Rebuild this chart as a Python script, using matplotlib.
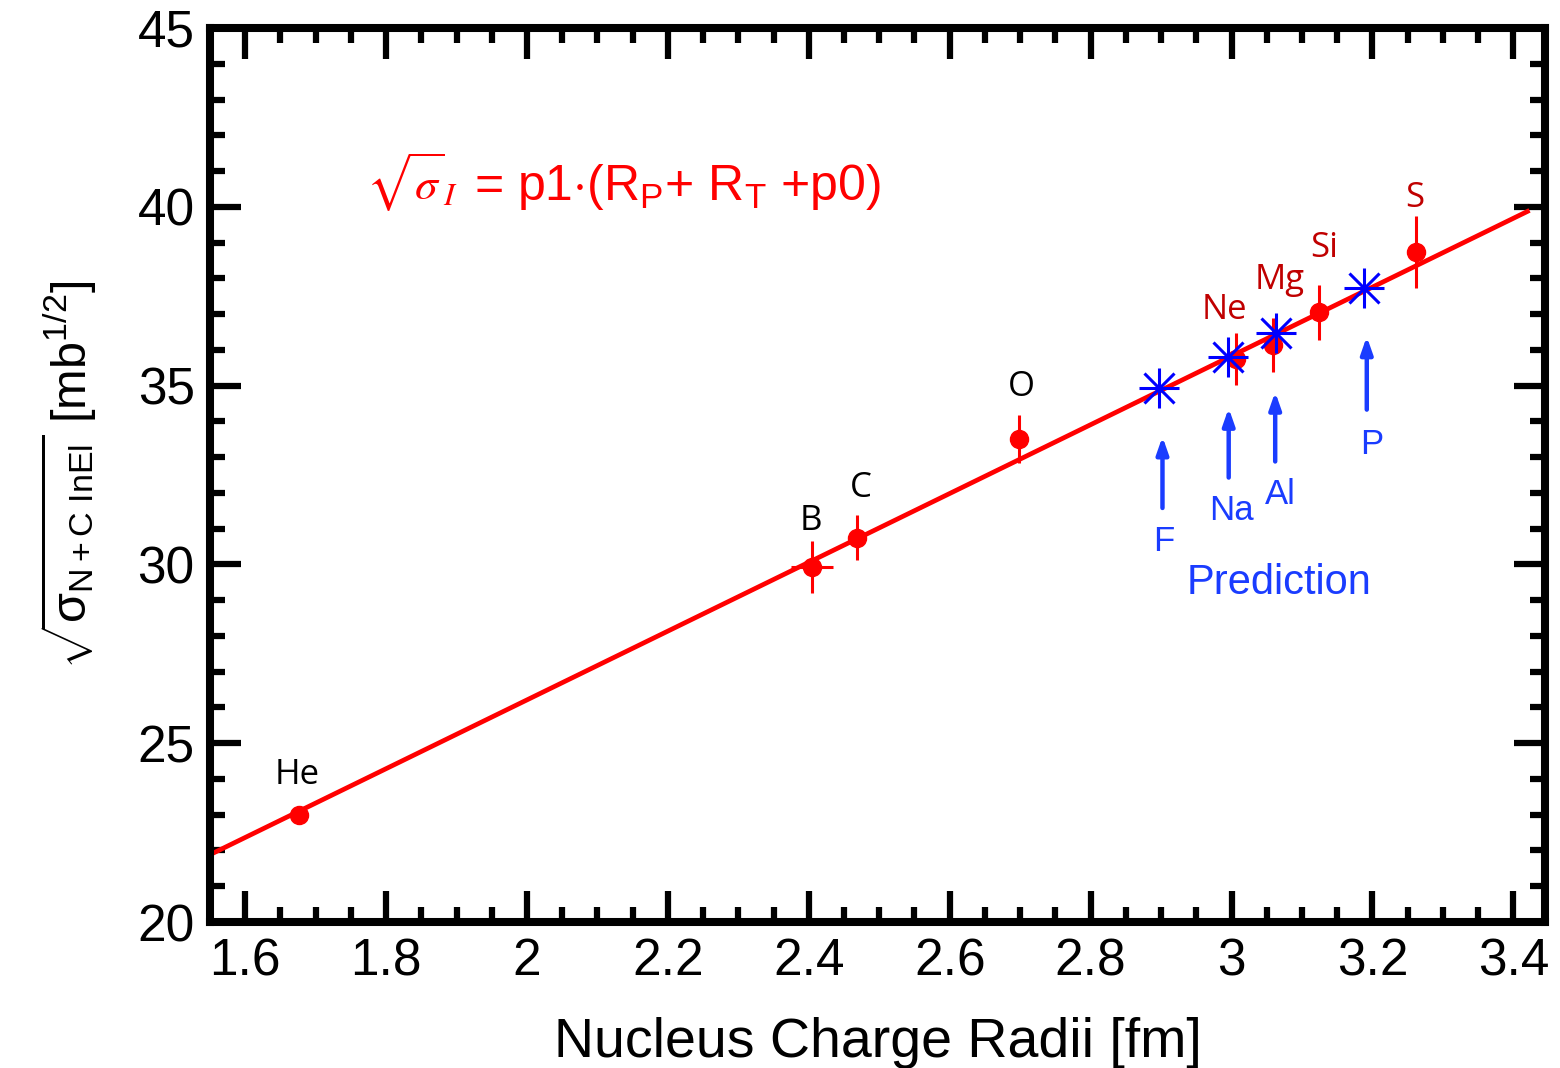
#!/usr/bin/env python3
"""
Inelastic cross-section vs nucleus charge radius, with linear fit and predictions.
"""

import matplotlib
matplotlib.use("Agg")
import matplotlib.pyplot as plt
from matplotlib.ticker import MultipleLocator

plt.rcParams['font.family'] = ['Liberation Sans', 'DejaVu Sans']
plt.rcParams['mathtext.fontset'] = 'custom'
plt.rcParams['mathtext.rm'] = 'Liberation Sans'
plt.rcParams['mathtext.it'] = 'Liberation Sans:italic'
plt.rcParams['mathtext.sf'] = 'Liberation Sans'

# Measured nuclei
meas_names = ["He", "B", "C", "O", "Ne", "Mg", "Si", "S"]
meas_x = [1.676, 2.405, 2.469, 2.699, 3.007, 3.059, 3.124, 3.262]
meas_y = [23.0, 29.93, 30.75, 33.5, 35.75, 36.13, 37.05, 38.74]
meas_yerr = [0.2, 0.73, 0.62, 0.67, 0.73, 0.75, 0.77, 1.0]
meas_xerr = [0.0, 0.03, 0.0, 0.0, 0.0, 0.0, 0.0, 0.0]
meas_colors = ["black", "black", "black", "black", "#c00000", "#c00000", "#c00000", "#c00000"]
label_x = [1.674, 2.403, 2.474, 2.702, 2.990, 3.068, 3.131, 3.260]
label_y = [24.1, 31.2, 32.15, 34.95, 37.1, 37.95, 38.85, 40.25]

# Predicted nuclei
pred_names = ["F", "Na", "Al", "P"]
pred_x = [2.897, 2.995, 3.063, 3.188]
pred_y = [34.93, 35.80, 36.47, 37.73]
arrow_x = [2.902, 2.996, 3.062, 3.192]
arrow_tail = [31.5, 32.35, 32.8, 34.25]
arrow_head = [33.65, 34.45, 34.9, 36.45]
pred_label_x = [2.904, 3.0, 3.07, 3.199]
pred_label_y = [30.65, 31.5, 31.95, 33.35]

# Fit line end points
fit_x = [1.557, 3.42]
fit_y = [21.95, 39.87]

BLUE = "#1a3cff"

fig = plt.figure(figsize=(15.6, 10.68), dpi=100)
ax = fig.add_axes([0.1346, 0.1367, 0.8558, 0.8371])

ax.plot(fit_x, fit_y, color="red", lw=3.4, zorder=2)

ax.errorbar(meas_x, meas_y, yerr=meas_yerr, xerr=meas_xerr, fmt='o', color="red",
            ms=13, elinewidth=2.2, capsize=0, zorder=3)

ax.plot(pred_x, pred_y, '+', color="blue", ms=29, mew=2.2, zorder=4)
ax.plot(pred_x, pred_y, 'x', color="blue", ms=22, mew=2.2, zorder=4)

for name, x, y, c in zip(meas_names, label_x, label_y, meas_colors):
    ax.text(x, y, name, color=c, fontsize=25, family="Open Sans",
            ha="center", va="center")

for x, y0, y1 in zip(arrow_x, arrow_tail, arrow_head):
    ax.annotate("", xy=(x, y1), xytext=(x, y0),
                arrowprops=dict(arrowstyle="-|>,head_length=1.0,head_width=0.35",
                                color=BLUE, lw=3.2))

for name, x, y in zip(pred_names, pred_label_x, pred_label_y):
    ax.text(x, y, name, color=BLUE, fontsize=25, ha="center", va="center")

ax.text(3.067, 29.48, "Prediction", color=BLUE, fontsize=30,
        ha="center", va="center")

# Fit formula
ax.text(1.772, 40.2, r'$\sqrt{\sigma}_{I}$', color="red", fontsize=33,
        math_fontfamily='stix', va="baseline")
ax.text(1.925, 40.2, r'= p1$\cdot$(R$_{\mathrm{P}}$+ R$_{\mathrm{T}}$ +p0)', color="red",
        fontsize=36, va="baseline")

ax.set_xlim(1.55, 3.445)
ax.set_ylim(20, 45)
ax.xaxis.set_minor_locator(MultipleLocator(0.05))
ax.yaxis.set_major_locator(MultipleLocator(5))
ax.yaxis.set_minor_locator(MultipleLocator(1))
ax.set_xticks([1.6, 1.8, 2.0, 2.2, 2.4, 2.6, 2.8, 3.0, 3.2, 3.4])
ax.set_xticklabels(["1.6", "1.8", "2", "2.2", "2.4", "2.6", "2.8", "3", "3.2", "3.4"])

for side in ax.spines.values():
    side.set_linewidth(5.8)
ax.tick_params(which="both", direction="in", top=True, right=True, width=4.5,
               labelsize=37, pad=11)
ax.tick_params(which="major", length=22)
ax.tick_params(which="minor", length=11)

ax.set_xlabel("Nucleus Charge Radii [fm]", fontsize=40, labelpad=22)
ax.set_ylabel(r'$\sqrt{\mathrm{\sigma}_{\mathrm{N+C\ InEl}}}$ [mb$^{\mathrm{1/2}}$]', fontsize=35,
              labelpad=28)

fig.savefig("out.png", dpi=100)
